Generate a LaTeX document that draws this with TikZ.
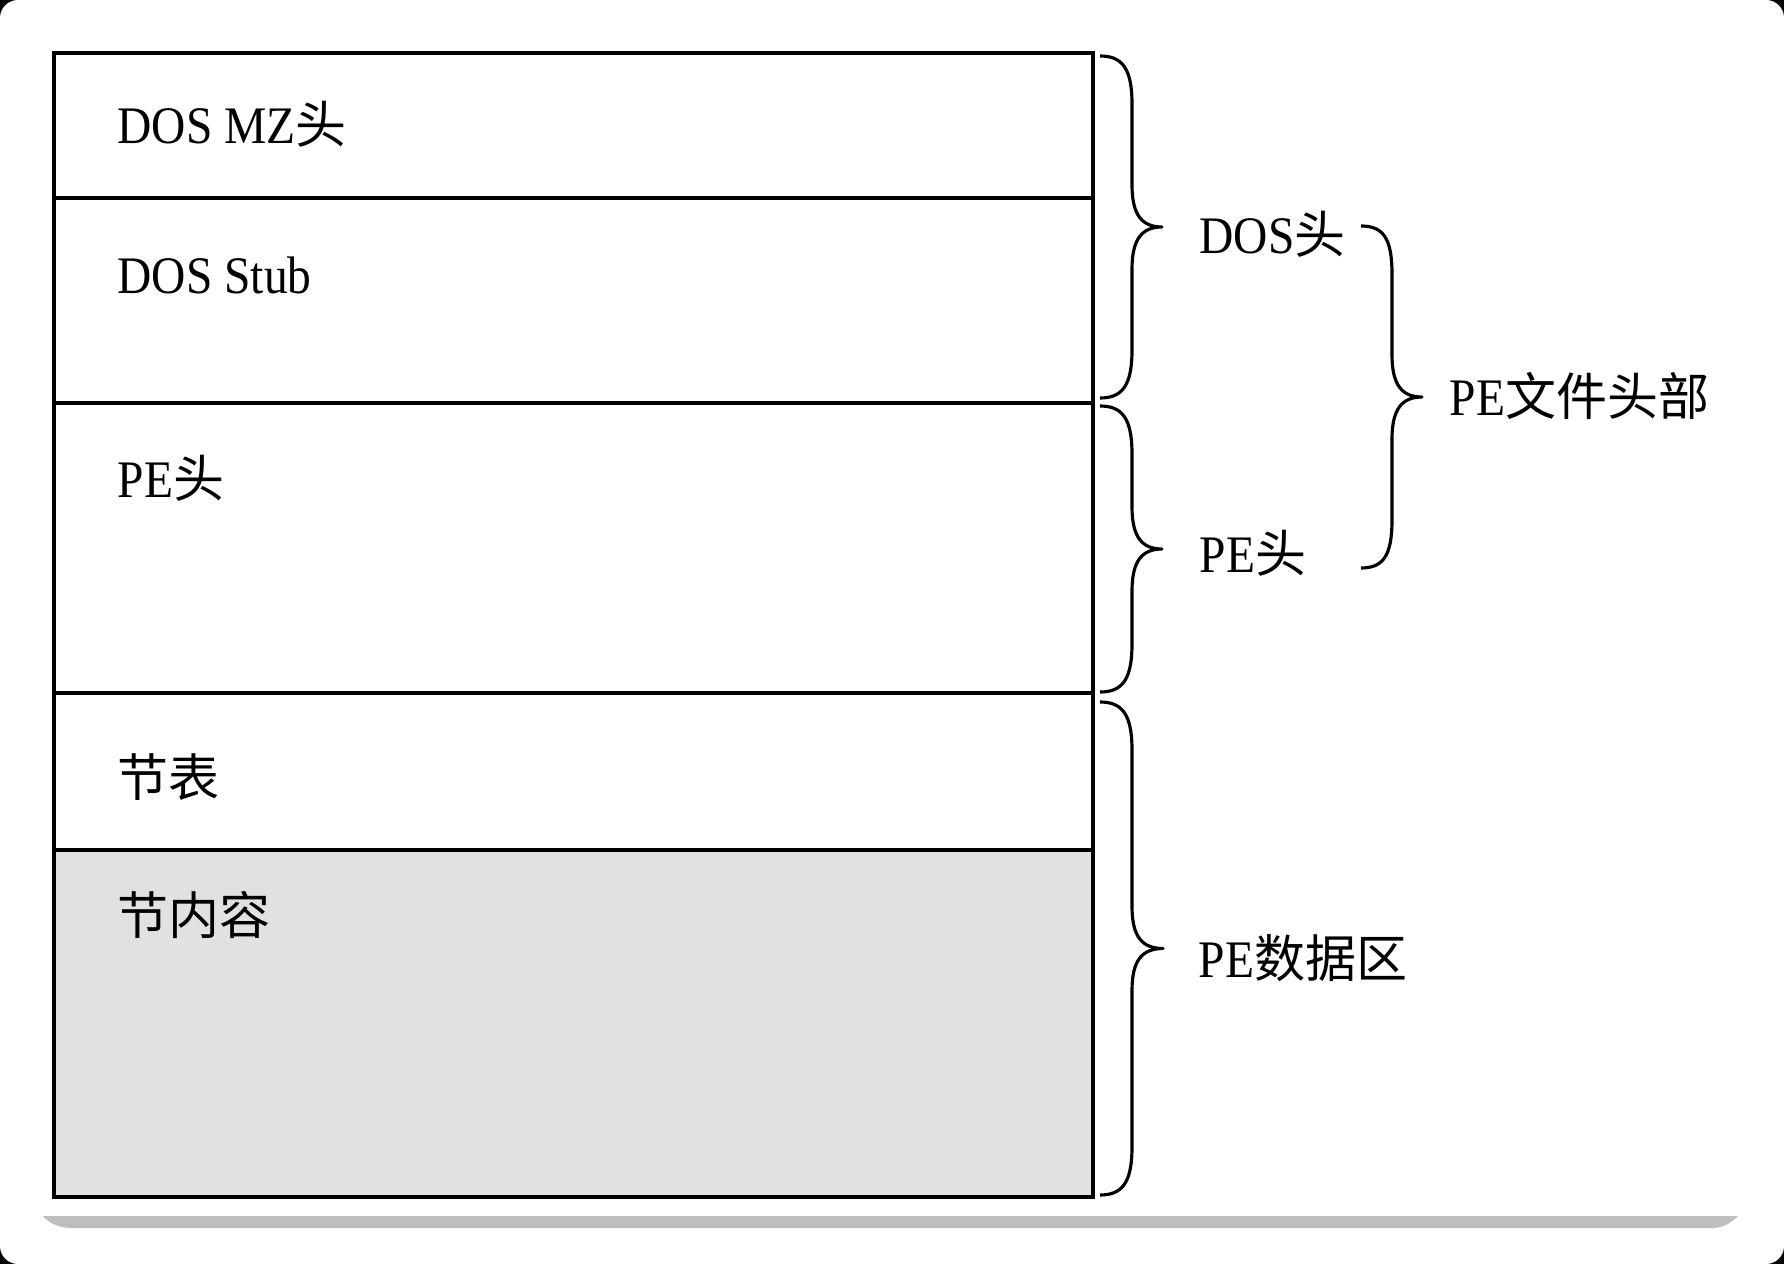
\documentclass[tikz,border=0pt]{standalone}
\usepackage{fontspec}
\setmainfont{Liberation Serif}[FakeStretch=0.9]
\newfontfamily\cjk{Noto Sans CJK SC}[Scale=0.967]
\definecolor{secgrey}{HTML}{E1E1E3}
\definecolor{bandgrey}{HTML}{BEBEBE}
\begin{document}
\begin{tikzpicture}[x=0.01cm,y=-0.01cm,
  boxline/.style={line width=1.05pt,draw=black},
  bracel/.style={line width=0.9pt,draw=black,line join=round},
  lbl/.style={anchor=west,inner sep=0pt,font=\fontsize{15pt}{17pt}\selectfont}]
% background card
\fill[black] (0,0) rectangle (1784,1264);
\fill[white,rounded corners=0.18cm] (0,0) rectangle (1784,1264);
\useasboundingbox (0,0) rectangle (1784,1264);
% grey caption band
\fill[bandgrey] (43,1216) -- (1738,1216) .. controls (1730,1224) and (1722,1228) .. (1712,1228)
  -- (72,1228) .. controls (60,1228) and (50,1224) .. (43,1216) -- cycle;
% sections
\fill[secgrey] (54,850) rectangle (1093,1197);
\draw[boxline] (54,53) rectangle (1093,1197);
\draw[boxline] (54,198) -- (1093,198);
\draw[boxline] (54,403) -- (1093,403);
\draw[boxline] (54,693) -- (1093,693);
\draw[boxline] (54,850) -- (1093,850);
% left labels
\node[lbl] (mz) at (117,124) {DOS MZ{\cjk 头}};
\node[lbl] (stub) at (117,275) {DOS Stub};
\node[lbl] (pe) at (117,478) {PE{\cjk 头}};
\node[lbl] (sec) at (117,777) {{\cjk 节表}};
\node[lbl] (cont) at (117,915) {{\cjk 节内容}};
% right labels
\node[lbl] (doshead) at (1199,234) {DOS{\cjk 头}};
\node[lbl] (pehead) at (1199,553) {PE{\cjk 头}};
\node[lbl] (pefile) at (1449,396) {PE{\cjk 文件头部}};
\node[lbl] (pedata) at (1198,958) {PE{\cjk 数据区}};
% braces
\newcommand\rbr[5]{% x0, ytop, ybot, x1, xtip
  \pgfmathsetmacro\ym{(#2+#3)/2}
  \draw[bracel] (#1,#2) .. controls (#1+22,#2) and (#4,#2+12) .. (#4,#2+48)
    -- (#4,\ym-42) .. controls (#4,\ym-12) and (#4+10,\ym) .. (#5,\ym)
    .. controls (#4+10,\ym) and (#4,\ym+12) .. (#4,\ym+42)
    -- (#4,#3-48) .. controls (#4,#3-12) and (#1+22,#3) .. (#1,#3);}
\rbr{1100}{56}{398}{1132}{1162}
\rbr{1100}{406}{692}{1132}{1162}
\rbr{1100}{702}{1195}{1132}{1163}
\rbr{1361}{226}{568}{1392}{1422}
\end{tikzpicture}
\end{document}
